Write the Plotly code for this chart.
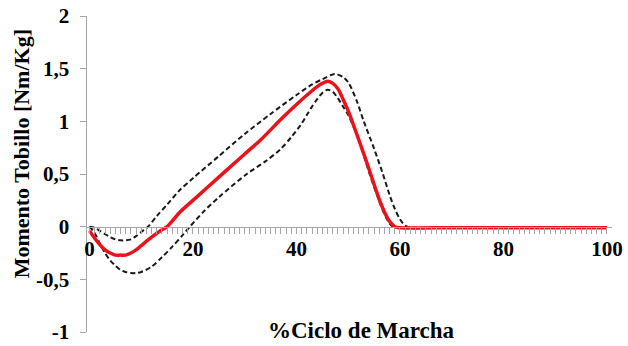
import plotly.graph_objects as go

# Mean curve (red)
mean_x = [0, 1, 2, 3, 4, 5, 6, 7, 8, 9, 10, 12, 14, 15, 17.5, 20, 25, 30, 33, 37, 40, 43, 44, 45, 46, 47, 48, 49, 50, 52, 54, 55, 56, 57, 58, 59, 60, 70, 80, 90, 100]
mean_y = [-0.04, -0.11, -0.17, -0.22, -0.25, -0.27, -0.27, -0.27, -0.25, -0.22, -0.18, -0.10, -0.03, 0.0, 0.14, 0.25, 0.47, 0.69, 0.82, 1.02, 1.16, 1.29, 1.33, 1.36, 1.38, 1.36, 1.31, 1.21, 1.10, 0.83, 0.55, 0.40, 0.26, 0.14, 0.05, 0.0, -0.01, -0.01, -0.01, -0.01, -0.01]

# Upper band (dashed)
upper_x = [0, 1, 2, 3, 4, 5, 6, 7, 8, 9, 10, 11.3, 13, 15, 17.5, 20, 25, 30, 35, 40, 43, 45, 47.4, 49, 50, 51.6, 53, 55, 56.7, 58, 59, 60, 61, 62, 70, 80, 90, 100]
upper_y = [0.0, -0.01, -0.04, -0.07, -0.10, -0.12, -0.13, -0.13, -0.12, -0.09, -0.05, 0.0, 0.10, 0.21, 0.35, 0.46, 0.67, 0.88, 1.07, 1.25, 1.35, 1.40, 1.45, 1.42, 1.37, 1.20, 1.00, 0.74, 0.50, 0.30, 0.17, 0.07, 0.01, -0.01, -0.01, -0.01, -0.01, -0.01]

# Lower band (dashed)
lower_x = [0, 1, 2, 3, 4, 5, 6, 7, 8, 9, 10, 12, 14, 16, 18, 19.4, 22, 25, 30.4, 34, 36.8, 39, 41, 42, 43, 44, 45, 46, 47, 48, 49, 50, 52, 54, 56, 57, 58, 59, 60, 70, 80, 90, 100]
lower_y = [0.0, -0.06, -0.16, -0.25, -0.32, -0.37, -0.41, -0.43, -0.44, -0.44, -0.43, -0.38, -0.29, -0.19, -0.08, 0.0, 0.14, 0.28, 0.50, 0.62, 0.73, 0.85, 0.98, 1.06, 1.14, 1.21, 1.27, 1.30, 1.28, 1.22, 1.14, 1.06, 0.83, 0.52, 0.24, 0.12, 0.03, -0.01, -0.01, -0.01, -0.01, -0.01, -0.01]

x_tick_vals = [0, 20, 40, 60, 80, 100]
x_tick_text = ["0", "20", "40", "60", "80", "100"]
y_tick_vals = [-1, -0.5, 0, 0.5, 1, 1.5, 2]
y_tick_text = ["-1", "-0,5", "0", "0,5", "1", "1,5", "2"]

x_title = "%Ciclo de Marcha"
y_title = "Momento Tobillo [Nm/Kg]"

FONT = "Liberation Serif"
AXIS_GRAY = "#a6a6a6"

fig = go.Figure()
fig.add_trace(go.Scatter(x=upper_x, y=upper_y, mode="lines",
                         line=dict(color="#1a1a1a", width=2, dash="5px,3px", shape="spline", smoothing=0.8),
                         showlegend=False, hoverinfo="skip"))
fig.add_trace(go.Scatter(x=lower_x, y=lower_y, mode="lines",
                         line=dict(color="#1a1a1a", width=2, dash="5px,3px", shape="spline", smoothing=0.8),
                         showlegend=False, hoverinfo="skip"))
fig.add_trace(go.Scatter(x=mean_x, y=mean_y, mode="lines",
                         line=dict(color="#e8141c", width=3.5, shape="spline", smoothing=0.8),
                         showlegend=False, hoverinfo="skip"))

fig.update_layout(
    width=628, height=346,
    margin=dict(l=87, r=16, t=16, b=14, autoexpand=False),
    paper_bgcolor="white", plot_bgcolor="white",
    font=dict(family=FONT, size=20, color="black"),
    showlegend=False,
    xaxis=dict(
        range=[-0.48, 100.97],
        anchor="free", position=1/3,
        automargin=False,
        showgrid=False, zeroline=False,
        showline=True, linecolor=AXIS_GRAY, linewidth=1.5,
        ticks="outside", ticklen=6, tickcolor=AXIS_GRAY, tickwidth=1,
        tickmode="array", tickvals=x_tick_vals, ticktext=x_tick_text,
        ticklabelstandoff=-3, ticklabeloverflow="allow",
        tickfont=dict(family=FONT, size=21, color="black", weight="bold"),
        minor=dict(tickmode="linear", tick0=0, dtick=1, ticks="outside", ticklen=6,
                   tickcolor=AXIS_GRAY, tickwidth=1, showgrid=False),
    ),
    yaxis=dict(
        range=[-1, 2],
        automargin=False,
        showgrid=False, zeroline=False,
        showline=True, linecolor=AXIS_GRAY, linewidth=1.5,
        ticks="outside", ticklen=6, tickcolor=AXIS_GRAY, tickwidth=1,
        tickmode="array", tickvals=y_tick_vals, ticktext=y_tick_text,
        ticklabelstandoff=6, ticklabeloverflow="allow",
        tickfont=dict(family=FONT, size=21, color="black", weight="bold"),
    ),
    annotations=[
        dict(text=f"<b>{x_title}</b>", xref="paper", yref="paper", x=0.522, y=0.006,
             xanchor="center", yanchor="middle", showarrow=False,
             font=dict(family=FONT, size=23, color="black")),
        dict(text=f"<b>{y_title}</b>", xref="paper", yref="paper", x=-0.124, y=0.565,
             xanchor="center", yanchor="middle", showarrow=False, textangle=-90,
             font=dict(family=FONT, size=22, color="black")),
    ],
)

fig.write_html("out.html",
               config={"displayModeBar": False, "staticPlot": True},
               post_script="document.body.style.margin='0';document.body.style.overflow='hidden';")
